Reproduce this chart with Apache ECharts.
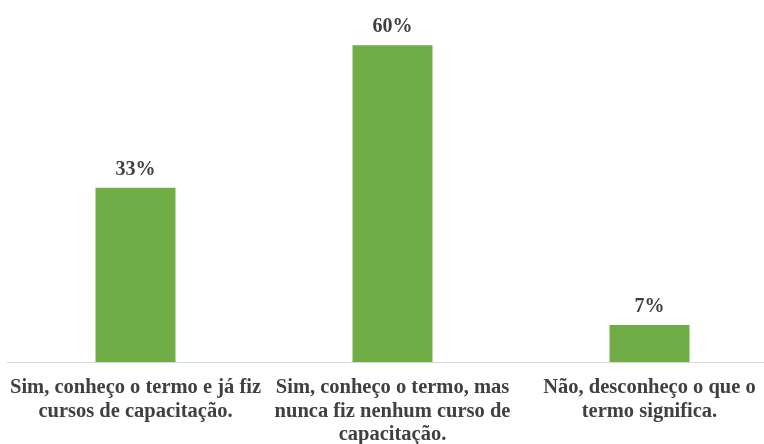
<!DOCTYPE html>
<html>
<head>
<meta charset="utf-8">
<script src="https://cdn.jsdelivr.net/npm/echarts@6/dist/echarts.min.js"></script>
<style>
  html, body { margin: 0; padding: 0; background: #fff; }
  #chart { width: 764px; height: 444px; }
</style>
</head>
<body>
<div id="chart"></div>
<script>
// Answer categories (line breaks as shown under the axis)
const categories = [
  'Sim, conheço o termo e já fiz\ncursos de capacitação.',
  'Sim, conheço o termo, mas\nnunca fiz nenhum curso de\ncapacitação.',
  'Não, desconheço o que o\ntermo significa.'
];
// Share of respondents, in percent
const percentages = [33, 60, 7];

const chart = echarts.init(document.getElementById('chart'));
chart.setOption({
  animation: false,
  grid: { left: 7, right: -14, top: 3, bottom: 82, containLabel: false, outerBoundsMode: 'none' },
  xAxis: {
    type: 'category',
    data: categories,
    axisLine: { lineStyle: { color: '#d9d9d9', width: 1 } },
    axisTick: { show: false },
    axisLabel: {
      interval: 0,
      margin: 14,
      color: '#404040',
      fontFamily: 'Liberation Serif, Times New Roman, serif',
      fontWeight: 'bold',
      fontSize: 20.5,
      lineHeight: 23.5
    }
  },
  yAxis: {
    type: 'value',
    min: 0,
    max: 68,
    show: false,
    splitLine: { show: false }
  },
  series: [{
    type: 'bar',
    data: percentages,
    barWidth: 80,
    itemStyle: { color: '#70ad47' },
    label: {
      show: true,
      position: 'top',
      distance: 8,
      formatter: p => p.value + '%',
      color: '#404040',
      fontFamily: 'Liberation Serif, Times New Roman, serif',
      fontWeight: 'bold',
      fontSize: 20
    }
  }]
});
</script>
</body>
</html>
